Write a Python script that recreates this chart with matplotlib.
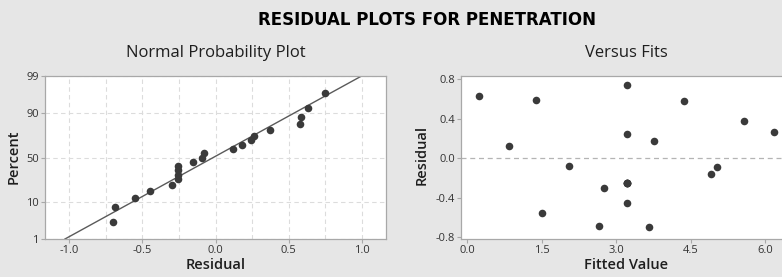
from statistics import NormalDist

import matplotlib
matplotlib.use("Agg")
import matplotlib.pyplot as plt
import numpy as np
from matplotlib.ticker import MultipleLocator

plt.rcParams["font.family"] = ["Open Sans", "DejaVu Sans"]

# residuals vs fitted values, read off the "Versus Fits" panel
# (four runs sit on top of each other at fit 3.21 / residual -0.255)
fits = [0.24, 0.84, 1.38, 1.51, 2.04, 2.66, 2.76, 3.21, 3.21, 3.21, 3.21,
        3.21, 3.21, 3.66, 3.76, 4.37, 4.91, 5.03, 5.57, 6.18]
residuals = [0.63, 0.12, 0.585, -0.55, -0.08, -0.69, -0.30, 0.745, 0.245,
             -0.255, -0.255, -0.255, -0.255, -0.45, -0.70, 0.18, 0.575,
             -0.155, -0.09, 0.373, 0.262]
fits = fits[:7] + [3.21] * 7 + fits[13:]   # 21 runs in total

pct_ticks = [1, 10, 50, 90, 99]
res_xticks = [-1.0, -0.5, 0.0, 0.5, 1.0]
fit_xticks = [0.0, 1.5, 3.0, 4.5, 6.0]
res_yticks = [-0.8, -0.4, 0.0, 0.4, 0.8]

BG = "#e6e6e6"
DOT = "#3a3a3a"
FRAME = "#a8a8a8"
GRID = "#dcdcdc"
TXT = "#1e1e1e"

nd = NormalDist()
W, H = 782, 277


def px(x0, y0, x1, y1):
    """axes rect from pixel box (top-left origin)"""
    return [x0 / W, 1 - y1 / H, (x1 - x0) / W, (y1 - y0) / H]


def style(ax):
    for s in ax.spines.values():
        s.set_color(FRAME)
        s.set_linewidth(0.9)
    ax.tick_params(axis="both", which="major", length=3, width=0.8, color=FRAME,
                   labelsize=8, labelcolor="#333333", pad=1.5)
    ax.tick_params(axis="both", which="minor", length=0)
    ax.set_facecolor("white")


fig = plt.figure(figsize=(W / 100, H / 100), dpi=100, facecolor=BG)

# --- normal probability plot ---
ax1 = fig.add_axes(px(45, 76, 386, 239))
style(ax1)
r_sorted = np.sort(residuals)
n = len(r_sorted)
ranks = np.arange(1, n + 1)
z = np.array([nd.inv_cdf(p) for p in (ranks - 0.3) / (n + 0.4)])
mu, sd = np.mean(residuals), np.std(residuals, ddof=1)
zlo, zhi = nd.inv_cdf(0.01), nd.inv_cdf(0.99)
zz = np.array([zlo, zhi])
ax1.plot(mu + sd * zz, zz, color="#5a5a5a", lw=1.0, zorder=2)
ax1.scatter(r_sorted, z, s=30, color=DOT, zorder=3, linewidths=0)
ax1.set_xlim(-1.165, 1.165)
ax1.set_ylim(zlo, zhi)
ax1.set_xticks(res_xticks)
ax1.set_xticklabels([f"{v:.1f}" for v in res_xticks])
ax1.xaxis.set_minor_locator(MultipleLocator(0.25))
ax1.set_yticks([nd.inv_cdf(p / 100) for p in pct_ticks])
ax1.set_yticklabels([str(p) for p in pct_ticks])
ax1.grid(True, which="both", axis="x", color=GRID, ls=(0, (4, 3)), lw=0.8)
ax1.grid(True, which="major", axis="y", color=GRID, ls=(0, (4, 3)), lw=0.8)
ax1.set_axisbelow(True)

# --- versus fits ---
ax2 = fig.add_axes(px(461, 76, 791, 239))
style(ax2)
ax2.axhline(0, color="#b4b4b4", ls=(0, (4, 3)), lw=0.9, zorder=1)
ax2.scatter(fits, residuals, s=30, color=DOT, zorder=3, linewidths=0)
ax2.set_xlim(-0.127, 6.52)
ax2.set_ylim(-0.817, 0.833)
ax2.set_xticks(fit_xticks)
ax2.set_xticklabels([f"{v:.1f}" for v in fit_xticks])
ax2.set_yticks(res_yticks)
ax2.set_yticklabels([f"{v:.1f}" for v in res_yticks])

# --- texts ---
fig.text(426.5 / W, 1 - 20 / H, "RESIDUAL PLOTS FOR PENETRATION",
         ha="center", va="center", fontsize=12, fontweight="bold",
         family=["DejaVu Sans"], color="black")
fig.text(215.5 / W, 1 - 53 / H, "Normal Probability Plot", ha="center",
         va="center", fontsize=12, color=TXT)
fig.text(626 / W, 1 - 53 / H, "Versus Fits", ha="center", va="center",
         fontsize=12, color=TXT)
fig.text(215.5 / W, 1 - 265 / H, "Residual", ha="center", va="center",
         fontsize=10.5, fontweight="semibold", color=TXT)
fig.text(626 / W, 1 - 265 / H, "Fitted Value", ha="center", va="center",
         fontsize=10.5, fontweight="semibold", color=TXT)
fig.text(14 / W, 1 - 157 / H, "Percent", ha="center", va="center",
         rotation=90, fontsize=10.5, fontweight="semibold", color=TXT)
fig.text(422 / W, 1 - 155 / H, "Residual", ha="center", va="center",
         rotation=90, fontsize=10.5, fontweight="semibold", color=TXT)

fig.savefig("out.png", dpi=100, facecolor=BG)
